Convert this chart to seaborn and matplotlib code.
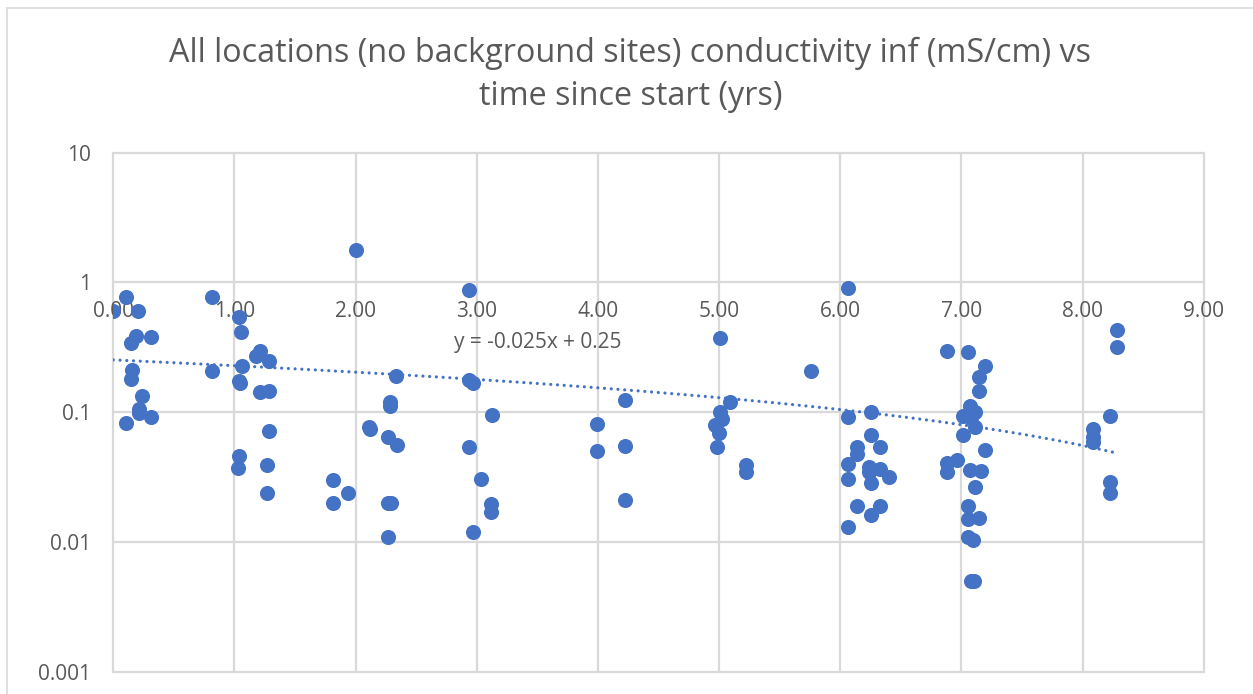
import numpy as np
import matplotlib
matplotlib.use("Agg")
import matplotlib.pyplot as plt
from matplotlib.lines import Line2D
import seaborn as sns
import pandas as pd

# time since start (yrs) and conductivity inf (mS/cm)
years = [
    0.00, 0.105, 0.20, 0.19, 0.15, 0.31, 0.154, 0.15, 0.234, 0.21, 0.21, 0.31, 0.105,
    0.817, 0.817,
    1.04, 1.05, 1.06, 1.04, 1.045, 1.21, 1.18, 1.285, 1.21, 1.285, 1.285, 1.04, 1.03, 1.27, 1.27,
    2.00, 1.816, 1.816, 1.94,
    2.333, 2.286, 2.286, 2.11, 2.12, 2.264, 2.34, 2.264, 2.29, 2.264,
    2.934, 2.934, 2.97, 3.124, 2.934, 3.033, 3.118, 3.118, 2.97,
    3.99, 3.99, 4.22, 4.22, 4.22,
    5.005, 5.088, 5.005, 5.02, 4.97, 5.00, 4.98, 5.76, 5.225, 5.225,
    6.06, 6.066, 6.25, 6.25, 6.14, 6.14, 6.327, 6.066, 6.066, 6.24, 6.24, 6.327,
    6.40, 6.25, 6.14, 6.327, 6.25, 6.066,
    6.88, 7.055, 7.195, 7.148, 7.148, 7.074, 7.01, 7.11, 7.08, 7.11, 7.016, 7.198,
    6.88, 6.96, 6.88, 7.074, 7.16, 7.11, 7.055, 7.055, 7.148, 7.055, 7.093, 7.10, 7.08,
    8.285, 8.285, 8.227, 8.084, 8.084, 8.084, 8.227, 8.227,
]
conductivity = [
    0.605, 0.77, 0.60, 0.39, 0.34, 0.38, 0.21, 0.18, 0.134, 0.106, 0.098, 0.092, 0.082,
    0.77, 0.206,
    0.545, 0.415, 0.229, 0.173, 0.168, 0.298, 0.273, 0.25, 0.143, 0.146, 0.072, 0.046, 0.037, 0.039, 0.024,
    1.78, 0.0298, 0.020, 0.024,
    0.189, 0.119, 0.112, 0.077, 0.074, 0.064, 0.056, 0.020, 0.020, 0.011,
    0.873, 0.178, 0.167, 0.095, 0.054, 0.0307, 0.0195, 0.0169, 0.012,
    0.081, 0.050, 0.124, 0.055, 0.021,
    0.373, 0.119, 0.100, 0.089, 0.079, 0.069, 0.054, 0.206, 0.039, 0.0345,
    0.91, 0.092, 0.101, 0.067, 0.054, 0.048, 0.054, 0.040, 0.0305, 0.038, 0.0345, 0.0366,
    0.0316, 0.0285, 0.019, 0.019, 0.016, 0.013,
    0.294, 0.291, 0.226, 0.186, 0.146, 0.112, 0.094, 0.100, 0.090, 0.077, 0.067, 0.051,
    0.0406, 0.0425, 0.0345, 0.036, 0.035, 0.0265, 0.019, 0.015, 0.0153, 0.011, 0.0103, 0.005, 0.005,
    0.433, 0.318, 0.093, 0.074, 0.064, 0.0585, 0.0288, 0.024,
]

# linear trendline as shown by Excel (y = -0.025x + 0.25)
trend_slope = -0.0247
trend_intercept = 0.253
trend_label = "y = -0.025x + 0.25"

x_ticks = [0, 1, 2, 3, 4, 5, 6, 7, 8, 9]
x_tick_labels = ["0.00", "1.00", "2.00", "3.00", "4.00", "5.00", "6.00", "7.00", "8.00", "9.00"]
y_ticks = [0.001, 0.01, 0.1, 1, 10]
y_tick_labels = ["0.001", "0.01", "0.1", "1", "10"]

title_1 = "All locations (no background sites) conductivity inf (mS/cm) vs"
title_2 = "time since start (yrs)"

df = pd.DataFrame({"years": years, "cond": conductivity})

sns.set_theme(style="white")
plt.rcParams["font.family"] = ["Open Sans", "DejaVu Sans"]

blue = "#4472C4"
grey_txt = "#595959"
grid_col = "#d9d9d9"

W, H = 1253, 694
fig = plt.figure(figsize=(W / 100, H / 100), dpi=100)
ax = fig.add_axes([113.3 / W, 1 - 671.7 / H, (1203.7 - 113.3) / W, (671.7 - 152.7) / H])

sns.scatterplot(data=df, x="years", y="cond", ax=ax, color=blue, s=118,
                linewidth=0, zorder=3, legend=False)

xs = np.linspace(df["years"].min(), df["years"].max(), 200)
ax.plot(xs, trend_slope * xs + trend_intercept, color=blue, lw=2.3,
        linestyle=(0, (0.01, 2.1)), dash_capstyle="round", zorder=2)

ax.set_yscale("log")
ax.set_xlim(0, 9)
ax.set_ylim(0.001, 10)
ax.set_xticks(x_ticks)
ax.set_xticklabels(x_tick_labels)
ax.set_yticks(y_ticks)
ax.set_yticklabels(y_tick_labels)
ax.minorticks_off()
ax.set_xlabel("")
ax.set_ylabel("")

for s in ax.spines.values():
    s.set_visible(False)
# horizontal axis crosses at y = 1
ax.spines["bottom"].set_position(("data", 1))

ax.grid(True, color=grid_col, lw=1.6)
for gl in ax.get_xgridlines() + ax.get_ygridlines():
    gl.set_clip_on(False)
ax.set_axisbelow(True)

ax.tick_params(axis="x", length=0, pad=13, labelsize=15, labelcolor=grey_txt)
ax.tick_params(axis="y", length=0, pad=16, labelsize=15, labelcolor=grey_txt)

ax.text(3.5, 0.344, trend_label, ha="center", va="center",
        fontsize=15, color=grey_txt)

fig.text(0.503, 1 - 61.7 / H, title_1, ha="center", va="baseline",
         fontsize=23.3, color=grey_txt)
fig.text(0.503, 1 - 105 / H, title_2, ha="center", va="baseline",
         fontsize=23.3, color=grey_txt)

# chart area border
fig.add_artist(Line2D([7 / W, 7 / W], [0, 1 - 8 / H], color=grid_col, lw=1.2))
fig.add_artist(Line2D([7 / W, 1], [1 - 8 / H, 1 - 8 / H], color=grid_col, lw=1.2))

fig.savefig("out.png", dpi=100, facecolor="white")
